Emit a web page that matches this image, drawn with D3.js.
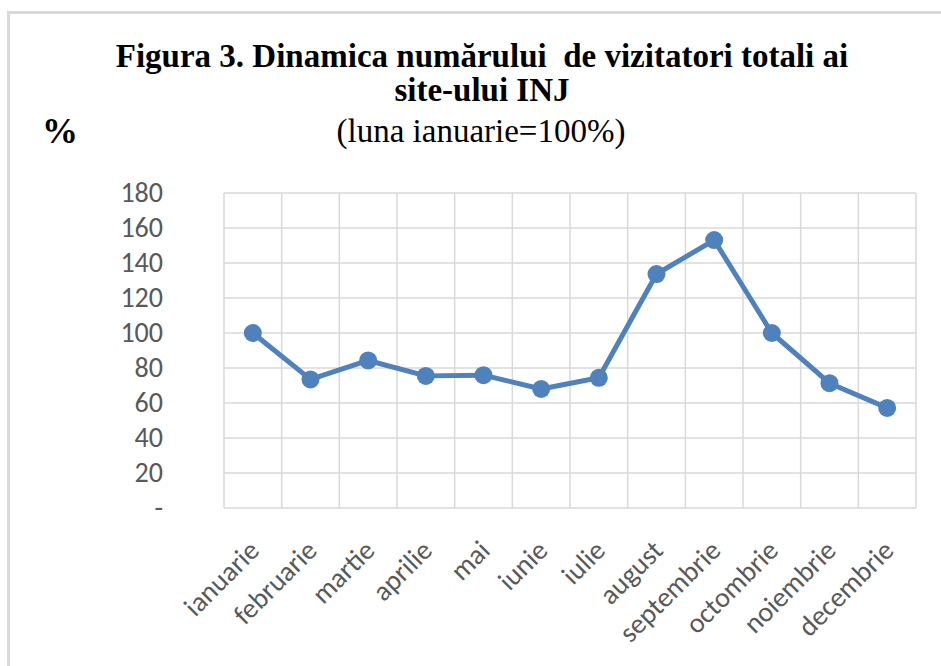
<!DOCTYPE html>
<html>
<head>
<meta charset="utf-8">
<script src="https://cdn.jsdelivr.net/npm/d3@7"></script>
<style>
  body { margin: 0; background: #fff; }
  svg { display: block; }
</style>
</head>
<body>
<svg width="941" height="666"></svg>
<script>
"use strict";

var months = ["ianuarie", "februarie", "martie", "aprilie", "mai", "iunie",
    "iulie", "august", "septembrie", "octombrie", "noiembrie", "decembrie"];
var visitors = [100, 73.5, 84.3, 75.5, 75.9, 68, 74.4, 133.7, 153.1, 100, 71.3, 57.2];
var yTicks = [0, 20, 40, 60, 80, 100, 120, 140, 160, 180];

var svg = d3.select("svg");
var margin = { left: 224, right: 25, top: 193, bottom: 158 };
var width = 941 - margin.left - margin.right;
var height = 666 - margin.top - margin.bottom;

// frame (only top and left visible)
svg.append("line").attr("x1", 8.5).attr("x2", 941).attr("y1", 12.5).attr("y2", 12.5)
    .attr("stroke", "#d9d9d9").attr("stroke-width", 3);
svg.append("line").attr("x1", 8.5).attr("x2", 8.5).attr("y1", 11).attr("y2", 666)
    .attr("stroke", "#d9d9d9").attr("stroke-width", 3);

// titles
var serif = "'Liberation Serif', 'Times New Roman', serif";
svg.append("text").attr("x", 482).attr("y", 67).attr("text-anchor", "middle")
    .attr("font-family", serif).attr("font-weight", "bold").attr("font-size", 33)
    .attr("xml:space", "preserve")
    .text("Figura 3. Dinamica numărului  de vizitatori totali ai");
svg.append("text").attr("x", 482).attr("y", 101).attr("text-anchor", "middle")
    .attr("font-family", serif).attr("font-weight", "bold").attr("font-size", 33)
    .text("site-ului INJ");
svg.append("text").attr("x", 481).attr("y", 142).attr("text-anchor", "middle")
    .attr("font-family", serif).attr("font-size", 33)
    .text("(luna ianuarie=100%)");
svg.append("text").attr("x", 42).attr("y", 143)
    .attr("font-family", serif).attr("font-weight", "bold").attr("font-size", 36)
    .text("%");

var g = svg.append("g").attr("transform", "translate(" + margin.left + "," + margin.top + ")");

var x = d3.scaleBand().domain(months).range([0, width]);
var y = d3.scaleLinear().domain([0, 180]).range([height, 0]);

// gridlines
g.append("g").selectAll("line.h").data(yTicks).enter().append("line")
    .attr("x1", 0).attr("x2", width)
    .attr("y1", function (d) { return y(d); }).attr("y2", function (d) { return y(d); })
    .attr("stroke", "#d9d9d9").attr("stroke-width", 1.5);
var bounds = months.map(function (m) { return x(m); }).concat([width]);
g.append("g").selectAll("line.v").data(bounds).enter().append("line")
    .attr("x1", function (d) { return d; }).attr("x2", function (d) { return d; })
    .attr("y1", 0).attr("y2", height)
    .attr("stroke", "#d9d9d9").attr("stroke-width", 1.5);

var labelFont = "Carlito, Calibri, Lato, sans-serif";

// y axis
var yAxis = g.append("g").attr("transform", "translate(-58,0)")
    .call(d3.axisLeft(y).tickValues(yTicks).tickSize(0)
        .tickFormat(function (d) { return d === 0 ? "-" : d; }));
yAxis.select(".domain").remove();
yAxis.selectAll("text").attr("font-family", labelFont).attr("font-size", 28)
    .attr("fill", "#595959");

// x axis
var xAxis = g.append("g").attr("transform", "translate(0," + height + ")")
    .call(d3.axisBottom(x).tickSize(0));
xAxis.select(".domain").remove();
xAxis.selectAll("text").attr("font-family", labelFont).attr("font-size", 28)
    .attr("fill", "#595959")
    .attr("text-anchor", "end")
    .attr("dy", 0)
    .attr("transform", "translate(6,42) rotate(-45)");

// line
var line = d3.line()
    .x(function (d, i) { return x(months[i]) + x.bandwidth() / 2; })
    .y(function (d) { return y(d); });
g.append("path").datum(visitors).attr("d", line)
    .attr("fill", "none").attr("stroke", "#4f81bd").attr("stroke-width", 5)
    .attr("stroke-linejoin", "round");
g.selectAll("circle").data(visitors).enter().append("circle")
    .attr("cx", function (d, i) { return x(months[i]) + x.bandwidth() / 2; })
    .attr("cy", function (d) { return y(d); })
    .attr("r", 9)
    .attr("fill", "#4f81bd");
</script>
</body>
</html>
